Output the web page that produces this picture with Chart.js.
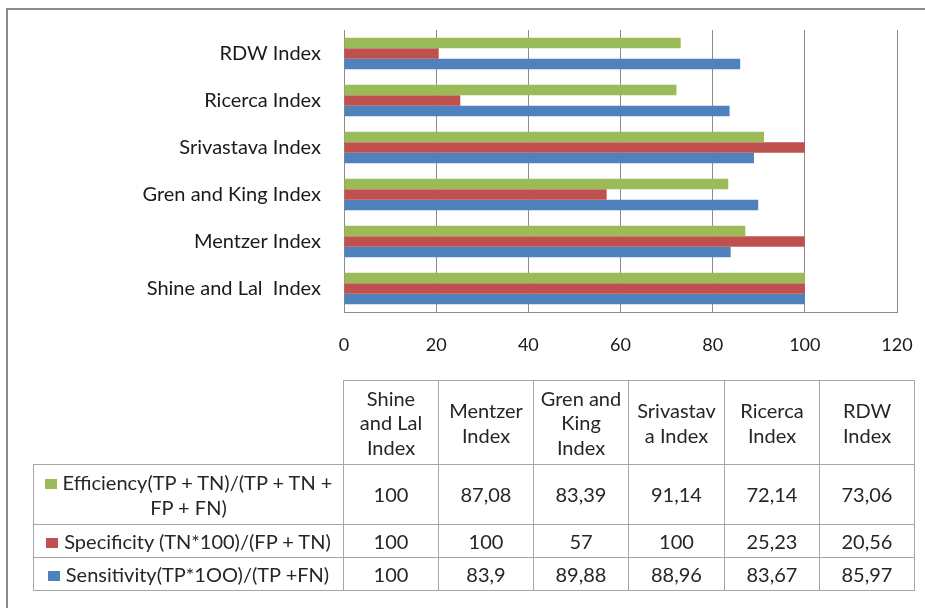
<!DOCTYPE html>
<html>
<head>
<meta charset="utf-8">
<script src="https://cdn.jsdelivr.net/npm/chart.js@4/dist/chart.umd.min.js"></script>
<style>
  html, body { margin: 0; padding: 0; background: #fff; }
  body { width: 925px; height: 608px; position: relative; overflow: hidden; font-family: Lato, "Open Sans", sans-serif; }
  #frame { position: absolute; left: 6px; top: 8px; width: 960px; height: 640px;
           border-left: 2px solid #8c8c8c; border-top: 2px solid #8c8c8c; }
  #chart { position: absolute; left: 0; top: 0; }
  #table { position: absolute; left: 33px; top: 380px; border-collapse: collapse; table-layout: fixed;
           color: #262626; font-size: 20px; line-height: 24.5px; text-align: center; }
  #table td, #table th { border: 1px solid #a6a6a6; padding: 0; font-weight: normal; vertical-align: middle; }
  #table th.blank { border-top: none; border-left: none; }
  #table td.name { padding: 0 6px; }
  .key { display: inline-block; width: 12px; height: 10px; margin-right: 6px; vertical-align: 1px; }
</style>
</head>
<body>
<div id="frame"></div>
<canvas id="chart" width="925" height="608"></canvas>
<table id="table"></table>
<script>
// Categories, bottom to top on the chart and left to right in the table
const categories = ['Shine and Lal  Index', 'Mentzer Index', 'Gren and King Index', 'Srivastava Index', 'Ricerca Index', 'RDW Index'];
// Column headings as they wrap in the data table
const headerLines = [['Shine', 'and Lal', 'Index'], ['Mentzer', 'Index'], ['Gren and', 'King', 'Index'], ['Srivastav', 'a Index'], ['Ricerca', 'Index'], ['RDW', 'Index']];

const seriesNames = ['Efficiency(TP + TN)/(TP + TN + FP + FN)', 'Specificity (TN*100)/(FP + TN)', 'Sensitivity(TP*1OO)/(TP +FN)'];
const efficiency  = [100, 87.08, 83.39, 91.14, 72.14, 73.06];
const specificity = [100, 100, 57, 100, 25.23, 20.56];
const sensitivity = [100, 83.9, 89.88, 88.96, 83.67, 85.97];

const xTicks = [0, 20, 40, 60, 80, 100, 120];

const colors = ['#9BBB59', '#C0504D', '#4F81BD'];
const seriesValues = [efficiency, specificity, sensitivity];

const FONT = 'Lato, "Open Sans", sans-serif';
const GRID = '#8c8c8c';

new Chart(document.getElementById('chart'), {
  type: 'bar',
  data: {
    labels: categories,
    datasets: seriesValues.map((vals, i) => ({
      label: seriesNames[i],
      data: vals,
      backgroundColor: colors[i],
      borderWidth: 0,
      categoryPercentage: 0.67,
      barPercentage: 1.0
    }))
  },
  options: {
    indexAxis: 'y',
    responsive: false,
    animation: false,
    devicePixelRatio: 1,
    layout: { padding: { top: 30, right: 28, left: 0, bottom: 0 } },
    plugins: { legend: { display: false }, tooltip: { enabled: false } },
    scales: {
      x: {
        min: xTicks[0],
        max: xTicks[xTicks.length - 1],
        afterBuildTicks: s => { s.ticks = xTicks.map(v => ({ value: v })); },
        afterFit: s => { s.height = 296; s.paddingLeft = 0; s.paddingRight = 0; },
        grid: { color: GRID, lineWidth: 1, drawTicks: false },
        border: { color: GRID, width: 1 },
        ticks: { color: '#1a1a1a', font: { family: FONT, size: 18 }, padding: 22, maxRotation: 0 }
      },
      y: {
        reverse: true,
        afterFit: s => { s.width = 344; s.paddingTop = 0; s.paddingBottom = 0; },
        grid: { display: false, drawTicks: false },
        border: { color: GRID, width: 1 },
        ticks: { color: '#1a1a1a', font: { family: FONT, size: 20 }, padding: 23 }
      }
    }
  }
});

// Data table under the chart
const fmt = v => String(v).replace('.', ',');
const table = document.getElementById('table');
const colgroup = document.createElement('colgroup');
[310, 95, 95, 95, 96, 95, 95].forEach(w => {
  const c = document.createElement('col'); c.style.width = w + 'px'; colgroup.appendChild(c);
});
table.appendChild(colgroup);

const head = document.createElement('tr');
head.style.height = '84px';
head.innerHTML = '<th class="blank"></th>' + headerLines.map(l => '<th>' + l.join('<br>') + '</th>').join('');
table.appendChild(head);

const rowHeights = [60, 33, 33];
seriesValues.forEach((vals, i) => {
  const tr = document.createElement('tr');
  tr.style.height = rowHeights[i] + 'px';
  tr.innerHTML = '<td class="name"><span class="key" style="background:' + colors[i] + '"></span>' + seriesNames[i] + '</td>' +
    vals.map(v => '<td>' + fmt(v) + '</td>').join('');
  table.appendChild(tr);
});
</script>
</body>
</html>
